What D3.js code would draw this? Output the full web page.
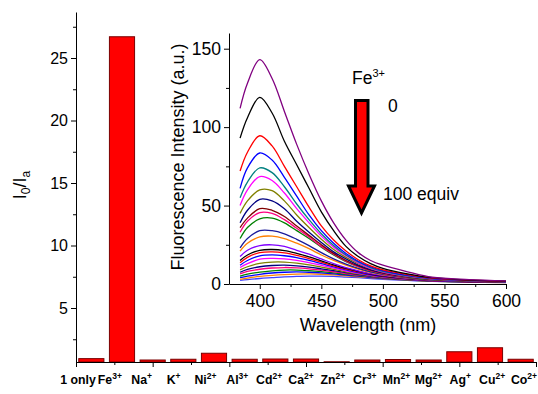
<!DOCTYPE html>
<html>
<head>
<meta charset="utf-8">
<script src="https://cdn.jsdelivr.net/npm/d3@7"></script>
<style>
  body { margin: 0; background: #fff; }
  svg { display: block; font-family: Arial, "Liberation Sans", sans-serif; }
</style>
</head>
<body>
<svg id="chart" width="538" height="394"></svg>
<script>
// Bar chart data
const ionNames   = ['1 only', 'Fe', 'Na', 'K', 'Ni', 'Al', 'Cd', 'Ca', 'Zn', 'Cr', 'Mn', 'Mg', 'Ag', 'Cu', 'Co'];
const ionCharges = ['', '3+', '+', '+', '2+', '3+', '2+', '2+', '2+', '3+', '2+', '2+', '+', '2+', '2+'];
const ratioValues = [0.95, 26.7, 0.84, 0.9, 1.38, 0.9, 0.92, 0.92, 0.7, 0.84, 0.88, 0.84, 1.5, 1.82, 0.9];
const ratioTicks = [5, 10, 15, 20, 25];

// Inset spectra (titration with Fe3+, 0 -> 100 equiv)
const wavelengths = [384, 390, 400, 410, 420, 430, 440, 450, 460, 470, 480, 490, 500, 520, 540, 570, 600];
const spectraColors = ['#800080', '#000000', '#ff0000', '#0000ff', '#008080', '#ff00ff', '#808000', '#000080',
  '#800000', '#ff0080', '#008000', '#1a1a9a', '#ff8000', '#8000ff', '#000000', '#ff0000', '#0000ff', '#ff00ff',
  '#808000', '#000080', '#ff0080', '#008000', '#0000ff', '#ff8000', '#4040ff'];
const spectra = [
  [112, 128, 143, 131, 110, 89, 70, 53, 39, 28, 20, 15, 12, 7.8, 4.3, 2.8, 2],
  [93, 106, 119, 109, 91, 76, 61, 46, 34, 24, 17.5, 13, 10, 6.5, 4, 2.5, 1.8],
  [72, 84, 94.5, 88, 75, 62, 49, 37, 28, 21, 15.5, 11.5, 9, 6, 3.8, 2.4, 1.7],
  [61, 74, 83.5, 79, 68, 56, 44, 34, 26, 19.5, 14.5, 11, 8.5, 5.5, 3.5, 2.3, 1.6],
  [55, 65, 74, 71, 62, 51, 41, 32, 24.5, 18.5, 14, 10.5, 8, 5.2, 3.4, 2.2, 1.6],
  [50, 60, 68.5, 66, 58, 48, 39, 30.5, 23.5, 18, 13.5, 10, 7.8, 5, 3.3, 2.2, 1.5],
  [45, 53, 60, 59.5, 53, 44, 36, 28.5, 22, 17, 13, 9.8, 7.6, 4.9, 3.2, 2.1, 1.5],
  [39, 47, 54, 53, 48, 40, 33, 26.5, 20.5, 16, 12, 9.2, 7.2, 4.7, 3.1, 2, 1.4],
  [36, 42, 48, 47, 43, 37, 31, 25, 19.5, 15, 11.5, 8.8, 6.9, 4.5, 3, 2, 1.4],
  [33, 40, 45.5, 45, 41, 35.5, 30, 24, 19, 14.5, 11, 8.5, 6.7, 4.4, 2.9, 1.9, 1.3],
  [29, 36, 41.5, 42, 39, 34, 29, 23.5, 18.5, 14.3, 11, 8.4, 6.6, 4.3, 2.8, 1.9, 1.3],
  [23, 29, 34, 34, 32, 28.5, 24.5, 20, 16, 12.7, 10, 7.8, 6.2, 4.1, 2.7, 1.8, 1.3],
  [21, 26, 30, 30.5, 29, 26, 22.5, 18.5, 15, 12, 9.5, 7.4, 5.9, 3.9, 2.6, 1.8, 1.2],
  [17.5, 21.5, 24.5, 25, 24, 21.5, 19, 16, 13, 10.5, 8.4, 6.6, 5.3, 3.6, 2.4, 1.7, 1.2],
  [15, 18.5, 21.5, 22, 21.3, 19.5, 17.3, 14.8, 12.2, 9.9, 8, 6.3, 5, 3.4, 2.3, 1.6, 1.1],
  [13.5, 17, 20, 20.5, 19.8, 18.2, 16.2, 14, 11.6, 9.5, 7.7, 6.1, 4.9, 3.3, 2.2, 1.6, 1.1],
  [12, 15, 18, 18.6, 18, 16.8, 15, 13, 10.9, 9, 7.3, 5.8, 4.7, 3.2, 2.2, 1.5, 1.1],
  [10.5, 13, 15.8, 16.3, 16, 15, 13.6, 11.9, 10.1, 8.4, 6.9, 5.5, 4.5, 3.1, 2.1, 1.5, 1],
  [9, 11, 13.2, 14, 14, 13.3, 12.2, 10.8, 9.3, 7.8, 6.4, 5.2, 4.3, 3, 2.1, 1.5, 1],
  [7.5, 9.3, 11, 11.8, 12, 11.6, 10.8, 9.7, 8.5, 7.2, 6, 4.9, 4.1, 2.9, 2, 1.4, 1],
  [6.5, 8, 9.4, 10.2, 10.5, 10.3, 9.7, 8.8, 7.8, 6.7, 5.6, 4.7, 3.9, 2.8, 2, 1.4, 1],
  [5, 6.3, 7.6, 8.4, 8.9, 8.9, 8.5, 7.9, 7.1, 6.2, 5.3, 4.5, 3.8, 2.7, 1.9, 1.4, 1],
  [4, 5, 6.2, 7, 7.5, 7.7, 7.5, 7.1, 6.5, 5.7, 5, 4.2, 3.6, 2.6, 1.9, 1.3, 1],
  [3, 3.8, 4.8, 5.5, 6, 6.3, 6.4, 6.2, 5.8, 5.2, 4.6, 4, 3.4, 2.5, 1.8, 1.3, 0.9],
  [2.3, 2.8, 3.5, 4, 4.5, 4.8, 5, 5, 4.8, 4.4, 4, 3.5, 3, 2.3, 1.7, 1.2, 0.9]
];
const intensityTicks = [0, 50, 100, 150];
const wavelengthTicks = [400, 450, 500, 550, 600];

const svg = d3.select('#chart');

// ---- main bar chart ----
const x = d3.scaleBand().domain(ionNames).range([76, 536]).paddingInner(0.18).paddingOuter(0.09);
const labelX = d3.scalePoint().domain(ionNames).range([78, 524]);
const y = d3.scaleLinear().domain([0.68, 28.68]).range([362, 12]);

svg.append('g')
  .selectAll('rect')
  .data(ratioValues)
  .enter()
  .append('rect')
  .attr('x', (_, i) => x(ionNames[i]))
  .attr('y', d => y(d))
  .attr('width', x.bandwidth())
  .attr('height', d => y.range()[0] - y(d))
  .attr('fill', '#ff0000')
  .attr('stroke', '#7a0000')
  .attr('stroke-width', 1);

// y axis
const yAxis = svg.append('g')
  .attr('transform', 'translate(76,0)')
  .call(d3.axisLeft(y).tickValues(ratioTicks).tickSize(5).tickSizeOuter(0).tickPadding(3));
yAxis.selectAll('text').attr('font-size', 16).attr('font-family', null).attr('fill', '#000');
yAxis.selectAll('line, path').attr('stroke', '#000');
svg.append('g')
  .attr('transform', 'translate(76,0)')
  .call(d3.axisLeft(y).tickValues([2.5, 7.5, 12.5, 17.5, 22.5, 27.5]).tickSize(3).tickSizeOuter(0).tickFormat(''))
  .call(g => g.select('.domain').remove())
  .selectAll('line').attr('stroke', '#000');

// x axis line with plain ticks
const xt = d3.scaleLinear().domain([0, 6]).range([76, 536]);
svg.append('g')
  .attr('transform', 'translate(0,362)')
  .call(d3.axisBottom(xt).ticks(6).tickSize(5).tickSizeOuter(0).tickFormat(''))
  .call(g => g.selectAll('line, path').attr('stroke', '#000'));
svg.append('g')
  .attr('transform', 'translate(0,362)')
  .call(d3.axisBottom(xt).tickValues(d3.range(0.5, 6, 1)).tickSize(3).tickSizeOuter(0).tickFormat(''))
  .call(g => g.select('.domain').remove())
  .selectAll('line').attr('stroke', '#000');

// category labels
const cat = svg.append('g')
  .selectAll('text')
  .data(ionNames)
  .enter()
  .append('text')
  .attr('x', d => labelX(d))
  .attr('y', 384)
  .attr('text-anchor', 'middle')
  .attr('font-size', 12.3)
  .attr('font-weight', 'bold');
cat.append('tspan').text(d => d);
cat.append('tspan')
  .attr('dy', -5)
  .attr('font-size', 8.5)
  .text((_, i) => ionCharges[i]);

// y title
const yTitle = svg.append('text')
  .attr('transform', 'translate(26,185) rotate(-90)')
  .attr('text-anchor', 'middle')
  .attr('font-size', 18);
yTitle.append('tspan').text('I');
yTitle.append('tspan').attr('dy', 4).attr('font-size', 12).text('0');
yTitle.append('tspan').attr('dy', -4).text('/I');
yTitle.append('tspan').attr('dy', 4).attr('font-size', 12).text('a');

// ---- inset spectra ----
const ix = d3.scaleLinear().domain([375, 600]).range([229, 506]);
const iy = d3.scaleLinear().domain([0, 160]).range([284, 33]);

const line = d3.line()
  .x((_, i) => ix(wavelengths[i]))
  .y(d => iy(d))
  .curve(d3.curveCatmullRom);

svg.append('g')
  .selectAll('path')
  .data(spectra.slice().reverse())
  .enter()
  .append('path')
  .attr('d', d => line(d))
  .attr('fill', 'none')
  .attr('stroke', (_, i) => spectraColors[spectra.length - 1 - i])
  .attr('stroke-width', 1.3);

const iyAxis = svg.append('g')
  .attr('transform', 'translate(229,0)')
  .call(d3.axisLeft(iy).tickValues(intensityTicks).tickSize(5).tickSizeOuter(0).tickPadding(3));
iyAxis.selectAll('text').attr('font-size', 17.5).attr('font-family', null).attr('fill', '#000');
iyAxis.selectAll('line, path').attr('stroke', '#000');
svg.append('g')
  .attr('transform', 'translate(229,0)')
  .call(d3.axisLeft(iy).tickValues([25, 75, 125]).tickSize(3).tickSizeOuter(0).tickFormat(''))
  .call(g => g.select('.domain').remove())
  .selectAll('line').attr('stroke', '#000');

const ixAxis = svg.append('g')
  .attr('transform', 'translate(0,284)')
  .call(d3.axisBottom(ix).tickValues(wavelengthTicks).tickSize(5).tickSizeOuter(0).tickPadding(6));
ixAxis.selectAll('text').attr('font-size', 17.5).attr('font-family', null).attr('fill', '#000');
ixAxis.selectAll('line, path').attr('stroke', '#000');
svg.append('g')
  .attr('transform', 'translate(0,284)')
  .call(d3.axisBottom(ix).tickValues([425, 475, 525, 575]).tickSize(3).tickSizeOuter(0).tickFormat(''))
  .call(g => g.select('.domain').remove())
  .selectAll('line').attr('stroke', '#000');

svg.append('text')
  .attr('transform', 'translate(184,157) rotate(-90)')
  .attr('text-anchor', 'middle')
  .attr('font-size', 18)
  .text('Fluorescence Intensity (a.u.)');

svg.append('text')
  .attr('x', 368)
  .attr('y', 331)
  .attr('text-anchor', 'middle')
  .attr('font-size', 18)
  .text('Wavelength (nm)');

// arrow annotation
svg.append('path')
  .attr('d', 'M355.5,100.5 L368,100.5 L368,186 L374.5,186 L361.5,213 L348.5,186 L355.5,186 Z')
  .attr('fill', '#ff0000')
  .attr('stroke', '#000')
  .attr('stroke-width', 3)
  .attr('stroke-linejoin', 'miter');

const fe = svg.append('text').attr('x', 352).attr('y', 84).attr('font-size', 17.5);
fe.append('tspan').text('Fe');
fe.append('tspan').attr('dy', -7).attr('font-size', 11).text('3+');

svg.append('text').attr('x', 388).attr('y', 112).attr('font-size', 17.5).text('0');
svg.append('text').attr('x', 383).attr('y', 200).attr('font-size', 17.5).text('100 equiv');
</script>
</body>
</html>
